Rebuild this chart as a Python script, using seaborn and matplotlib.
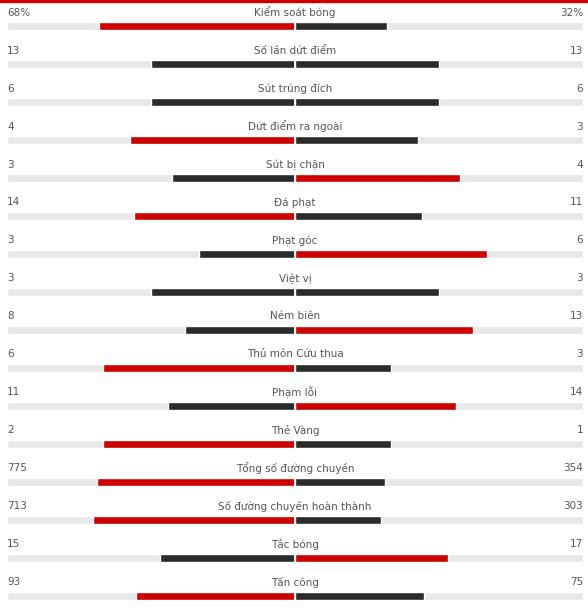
import pandas as pd
import numpy as np
import matplotlib.pyplot as plt
import seaborn as sns
from matplotlib.patches import Rectangle

# Match stats (home left, away right)
stats = ['Kiểm soát bóng', 'Số lần dứt điểm', 'Sút trúng đích', 'Dứt điểm ra ngoài',
         'Sút bị chặn', 'Đá phạt', 'Phạt góc', 'Việt vị', 'Ném biên',
         'Thủ môn Cứu thua', 'Phạm lỗi', 'Thẻ Vàng', 'Tổng số đường chuyền',
         'Số đường chuyền hoàn thành', 'Tắc bóng', 'Tấn công']
home = [68, 13, 6, 4, 3, 14, 3, 3, 8, 6, 11, 2, 775, 713, 15, 93]
away = [32, 13, 6, 3, 4, 11, 6, 3, 13, 3, 14, 1, 354, 303, 17, 75]
suffix = ['%'] + [''] * 15

RED = '#cc0000'
DARK = '#2b2b2b'
TRACK = '#e8e8e8'
TXT = '#555555'

df = pd.DataFrame({'stat': stats, 'home': home, 'away': away})
df['total'] = df['home'] + df['away']
df['home_share'] = -df['home'] / df['total']
df['away_share'] = df['away'] / df['total']
df['home_res'] = np.where(df['home'] > df['away'], 'win', 'lose')
df['away_res'] = np.where(df['away'] > df['home'], 'win', 'lose')
df['track_l'] = -1.0
df['track_r'] = 1.0

sns.set_style("white")
plt.rcParams['font.family'] = ['DejaVu Sans']

fig = plt.figure(figsize=(5.88, 6.11), dpi=100)
ax = fig.add_axes([7 / 588, 0, 576 / 588, 1])

bw = 8.6 / 38
pal = {'win': RED, 'lose': DARK}
sns.barplot(data=df, x='track_l', y='stat', color=TRACK, width=bw, orient='h', ax=ax, saturation=1)
sns.barplot(data=df, x='track_r', y='stat', color=TRACK, width=bw, orient='h', ax=ax, saturation=1)
sns.barplot(data=df, x='home_share', y='stat', hue='home_res', palette=pal, dodge=False,
            width=bw, orient='h', ax=ax, legend=False, saturation=1)
sns.barplot(data=df, x='away_share', y='stat', hue='away_res', palette=pal, dodge=False,
            width=bw, orient='h', ax=ax, legend=False, saturation=1)
ax.axvline(0, color='white', lw=1.3)

# labels and values above each bar
off = 13.5 / 38
for i, row in df.iterrows():
    ax.text(0, i - off, row['stat'], ha='center', va='center', fontsize=7.5, color=TXT)
    ax.text(-1, i - off, f"{row['home']}{suffix[i]}", ha='left', va='center', fontsize=7.5, color=TXT)
    ax.text(1, i - off, f"{row['away']}{suffix[i]}", ha='right', va='center', fontsize=7.5, color=TXT)

ax.set_xlim(-1, 1)
ax.set_ylim((611 - 26) / 38, -26 / 38)
ax.set_axis_off()

fig.patches.append(Rectangle((0, 1 - 2 / 611), 1, 2 / 611, transform=fig.transFigure,
                             color=RED, zorder=5))

plt.savefig('out.png', dpi=100)
